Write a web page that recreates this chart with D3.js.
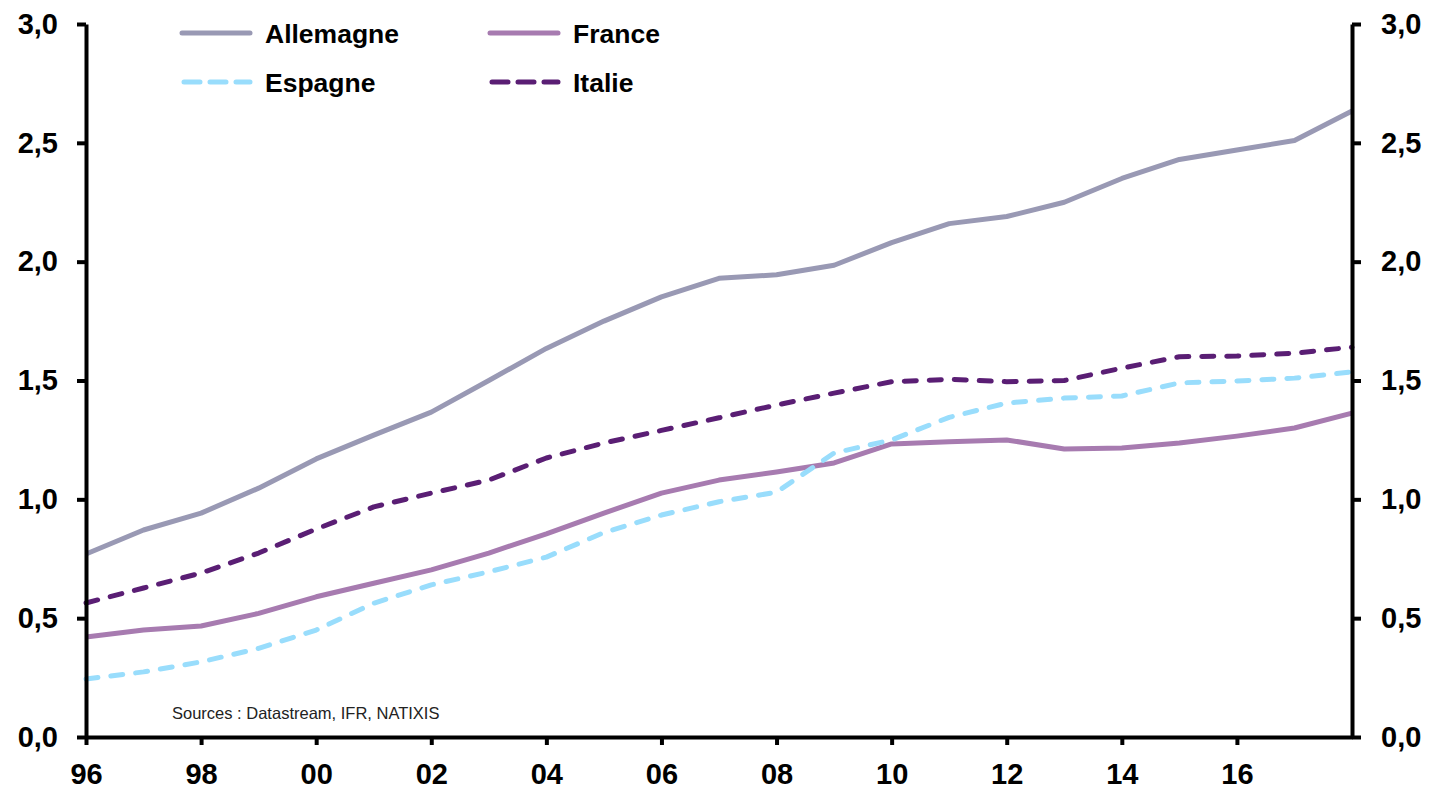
<!DOCTYPE html>
<html>
<head>
<meta charset="utf-8">
<script src="https://cdn.jsdelivr.net/npm/d3@7"></script>
<style>
  html, body { margin: 0; padding: 0; background: #fff; }
  svg { display: block; }
</style>
</head>
<body>
<svg id="chart" width="1430" height="789"></svg>
<script>
const years = d3.range(1996, 2019);
const allemagne = [0.77, 0.871, 0.942, 1.047, 1.17, 1.27, 1.367, 1.50, 1.635, 1.75, 1.852, 1.93, 1.945, 1.985, 2.08, 2.16, 2.19, 2.25, 2.35, 2.43, 2.47, 2.51, 2.634];
const france    = [0.421, 0.45, 0.467, 0.52, 0.59, 0.647, 0.703, 0.774, 0.855, 0.942, 1.026, 1.081, 1.115, 1.153, 1.233, 1.242, 1.25, 1.212, 1.216, 1.237, 1.266, 1.30, 1.363];
const espagne   = [0.244, 0.274, 0.316, 0.373, 0.45, 0.563, 0.64, 0.695, 0.757, 0.86, 0.934, 0.99, 1.03, 1.195, 1.25, 1.345, 1.405, 1.426, 1.435, 1.49, 1.498, 1.51, 1.536];
const italie    = [0.564, 0.627, 0.69, 0.774, 0.875, 0.968, 1.026, 1.081, 1.174, 1.237, 1.29, 1.343, 1.397, 1.447, 1.495, 1.505, 1.495, 1.50, 1.552, 1.60, 1.603, 1.615, 1.64];
const yTicks = [0, 0.5, 1.0, 1.5, 2.0, 2.5, 3.0];
const xTicks = [1996, 1998, 2000, 2002, 2004, 2006, 2008, 2010, 2012, 2014, 2016];

const series = [
  { name: "Allemagne", values: allemagne, color: "#9999b4", dash: null },
  { name: "France",    values: france,    color: "#a77bb0", dash: null },
  { name: "Espagne",   values: espagne,   color: "#99ddfc", dash: "12,13" },
  { name: "Italie",    values: italie,    color: "#5a1e74", dash: "12,13" }
];

const svg = d3.select("#chart");
const L = 86, R = 1352, T = 24, B = 737;
const x = d3.scaleLinear().domain([1996, 2018]).range([L, R]);
const y = d3.scaleLinear().domain([0, 3]).range([B, T]);
const fmt = d => d3.format(".1f")(d).replace(".", ",");

const font = "'Liberation Sans', Arial, sans-serif";

function styleAxis(g) {
  g.selectAll(".domain").attr("stroke", "#000").attr("stroke-width", 4);
  g.selectAll(".tick line").attr("stroke", "#000").attr("stroke-width", 4);
  g.selectAll(".tick text").attr("fill", "#000")
    .style("font-family", font).style("font-weight", "bold").style("font-size", "29px");
}

// Lines
const line = d3.line().x((d, i) => x(years[i])).y(d => y(d));
series.forEach(s => {
  svg.append("path")
    .datum(s.values)
    .attr("d", line)
    .attr("fill", "none")
    .attr("stroke", s.color)
    .attr("stroke-width", 5)
    .attr("stroke-linecap", s.dash ? "round" : "butt")
    .attr("stroke-linejoin", "round")
    .attr("stroke-dasharray", s.dash);
});

// Axes
svg.append("g").attr("transform", `translate(${L},0)`)
  .call(d3.axisLeft(y).tickValues(yTicks).tickFormat(fmt).tickSize(9).tickSizeOuter(0).tickPadding(19))
  .call(styleAxis);
svg.append("g").attr("transform", `translate(${R},0)`)
  .call(d3.axisRight(y).tickValues(yTicks).tickFormat(fmt).tickSize(9).tickSizeOuter(0).tickPadding(20))
  .call(styleAxis);
svg.append("g").attr("transform", `translate(0,${B})`)
  .call(d3.axisBottom(x).tickValues(xTicks).tickFormat(d => String(d).slice(2)).tickSize(8).tickSizeOuter(0).tickPadding(18))
  .call(styleAxis);

// Legend
const legendPos = [
  { lx: 182, ly: 33 }, { lx: 490, ly: 33 },
  { lx: 182, ly: 82 }, { lx: 490, ly: 82 }
];
series.forEach((s, i) => {
  const p = legendPos[i];
  const g = svg.append("g");
  g.append("line")
    .attr("x1", p.lx + (s.dash ? 2 : 0)).attr("x2", p.lx + 68)
    .attr("y1", p.ly).attr("y2", p.ly)
    .attr("stroke", s.color).attr("stroke-width", 5)
    .attr("stroke-linecap", "round")
    .attr("stroke-dasharray", s.dash ? "16,10" : null);
  g.append("text")
    .attr("x", p.lx + 83).attr("y", p.ly + 10)
    .style("font-family", font).style("font-weight", "bold").style("font-size", "26.5px")
    .attr("fill", "#000")
    .text(s.name);
});

// Sources
svg.append("text")
  .attr("x", 172).attr("y", 719)
  .style("font-family", font).style("font-size", "16.5px")
  .attr("fill", "#222")
  .text("Sources : Datastream, IFR, NATIXIS");
</script>
</body>
</html>
